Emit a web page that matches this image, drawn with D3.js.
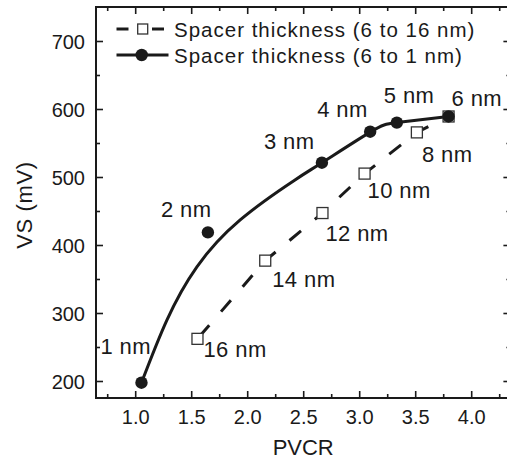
<!DOCTYPE html>
<html>
<head>
<meta charset="utf-8">
<script src="https://cdn.jsdelivr.net/npm/d3@7"></script>
<style>
  html, body { margin: 0; padding: 0; background: #fff; }
  svg { display: block; }
  text { font-family: "Liberation Sans", Arial, sans-serif; fill: #1a1a1a; }
</style>
</head>
<body>
<svg id="chart" width="507" height="463"></svg>
<script>
// Thin spacers (6 → 1 nm): measured points
const thinLabels = ["1 nm", "2 nm", "3 nm", "4 nm", "5 nm", "6 nm"];
const thinPVCR   = [1.056, 1.649, 2.667, 3.098, 3.336, 3.798];
const thinVS     = [197.5, 418.5, 521, 566.6, 580, 589];

// Thick spacers (6 → 16 nm): measured points
const thickLabels = ["6 nm", "8 nm", "10 nm", "12 nm", "14 nm", "16 nm"];
const thickPVCR   = [3.798, 3.515, 3.048, 2.672, 2.161, 1.556];
const thickVS     = [589, 565.6, 505, 447, 377, 262];

// Smooth trend through the thin-spacer series
const fitPVCR = [1.056, 1.283, 1.551, 1.9375, 2.42, 2.667, 3.098, 3.337, 3.797];
const fitVS   = [197.5, 289.7, 368, 437, 495, 521, 566, 580, 589];

// Axis ticks
const xTicks = [1.0, 1.5, 2.0, 2.5, 3.0, 3.5, 4.0];
const xMinor = [0.75, 1.25, 1.75, 2.25, 2.75, 3.25, 3.75, 4.25];
const yTicks = [200, 300, 400, 500, 600, 700];
const yMinor = [250, 350, 450, 550, 650];

// Where each point label sits relative to its marker (px)
const thinLabelOffset = [[-41, -29], [-47, -15], [-58, -14], [-53, -15], [-13, -20], [3, -10]];
const thickLabelOffset = [[3, 31], [5, 30], [3, 24], [3, 28], [7, 26], [6, 18]];

const svg = d3.select("#chart");
const plotL = 96, plotR = 510.4, plotT = 7, plotB = 398;

const x = d3.scaleLinear().domain([0.65, 4.35]).range([plotL, plotR]);
const y = d3.scaleLinear().domain([175, 750]).range([plotB, plotT]);

const ink = "#1a1a1a";

// Frame
svg.append("rect")
  .attr("x", plotL).attr("y", plotT)
  .attr("width", plotR - plotL).attr("height", plotB - plotT)
  .attr("fill", "none").attr("stroke", ink).attr("stroke-width", 2);

// Ticks on all four sides, pointing inward
function ticks(axisGen, transform) {
  const g = svg.append("g").attr("transform", transform).call(axisGen);
  g.select(".domain").remove();
  g.selectAll("line").attr("stroke", ink).attr("stroke-width", 1.6);
  return g;
}
const major = 7, minor = 4;
const fmtX = d3.format(".1f");

const gxb = ticks(d3.axisBottom(x).tickValues(xTicks).tickSize(-major).tickFormat(fmtX), `translate(0,${plotB})`);
gxb.selectAll("text").attr("y", 12).attr("dy", "0.71em").style("font-size", "20px").attr("fill", ink);
ticks(d3.axisBottom(x).tickValues(xMinor).tickSize(-minor).tickFormat(""), `translate(0,${plotB})`);
ticks(d3.axisTop(x).tickValues(xTicks).tickSize(-major).tickFormat(""), `translate(0,${plotT})`);
ticks(d3.axisTop(x).tickValues(xMinor).tickSize(-minor).tickFormat(""), `translate(0,${plotT})`);

const gyl = ticks(d3.axisLeft(y).tickValues(yTicks).tickSize(-major).tickFormat(d3.format("d")), `translate(${plotL},0)`);
gyl.selectAll("text").attr("x", -11).attr("dy", "0.35em").style("font-size", "20px").attr("fill", ink);
ticks(d3.axisLeft(y).tickValues(yMinor).tickSize(-minor).tickFormat(""), `translate(${plotL},0)`);
ticks(d3.axisRight(y).tickValues(yTicks).tickSize(-major).tickFormat(""), `translate(${plotR},0)`);
ticks(d3.axisRight(y).tickValues(yMinor).tickSize(-minor).tickFormat(""), `translate(${plotR},0)`);

// Axis titles
svg.append("text")
  .attr("x", (plotL + plotR) / 2).attr("y", 455)
  .attr("text-anchor", "middle").style("font-size", "22px").text("PVCR");
svg.append("text")
  .attr("transform", `translate(32,205) rotate(-90)`)
  .attr("text-anchor", "middle").style("font-size", "22px").style("letter-spacing", "0.6px").text("VS (mV)");

const thin = thinPVCR.map((p, i) => ({ p, v: thinVS[i], label: thinLabels[i], off: thinLabelOffset[i] }));
const thick = thickPVCR.map((p, i) => ({ p, v: thickVS[i], label: thickLabels[i], off: thickLabelOffset[i] }));
const fit = fitPVCR.map((p, i) => ({ p, v: fitVS[i] }));

// Dashed polyline through the thick-spacer points (starting from 16 nm)
const lineStraight = d3.line().x(d => x(d.p)).y(d => y(d.v));
svg.append("path")
  .datum(thick.slice().reverse())
  .attr("d", lineStraight)
  .attr("fill", "none").attr("stroke", ink).attr("stroke-width", 3)
  .attr("stroke-dasharray", "15,18").attr("stroke-dashoffset", 30);

// Smooth solid trend for thin spacers
const lineSmooth = d3.line().x(d => x(d.p)).y(d => y(d.v)).curve(d3.curveNatural);
svg.append("path")
  .datum(fit)
  .attr("d", lineSmooth)
  .attr("fill", "none").attr("stroke", ink).attr("stroke-width", 3);

// Open squares
const sq = 11;
svg.append("g").selectAll("rect").data(thick).join("rect")
  .attr("x", d => x(d.p) - sq / 2).attr("y", d => y(d.v) - sq / 2)
  .attr("width", sq).attr("height", sq)
  .attr("fill", "#fff").attr("stroke", "#333").attr("stroke-width", 1.3);

// Filled circles
svg.append("g").selectAll("circle").data(thin).join("circle")
  .attr("cx", d => x(d.p)).attr("cy", d => y(d.v)).attr("r", 6.2)
  .attr("fill", ink);

// Point labels
svg.append("g").selectAll("text").data(thin).join("text")
  .attr("x", d => x(d.p) + d.off[0]).attr("y", d => y(d.v) + d.off[1])
  .style("font-size", "22px").style("letter-spacing", "0.4px")
  .text(d => d.label);
svg.append("g").selectAll("text").data(thick.slice(1)).join("text")
  .attr("x", d => x(d.p) + d.off[0]).attr("y", d => y(d.v) + d.off[1])
  .style("font-size", "22px").style("letter-spacing", "0.4px")
  .text(d => d.label);

// Legend
const lg = svg.append("g");
const legendRows = [
  { text: "Spacer thickness (6 to 16 nm)", y: 29, dashed: true },
  { text: "Spacer thickness (6 to 1 nm)", y: 55, dashed: false }
];
legendRows.forEach(r => {
  if (r.dashed) {
    lg.append("line").attr("x1", 116.5).attr("x2", 128.5).attr("y1", r.y).attr("y2", r.y)
      .attr("stroke", ink).attr("stroke-width", 3);
    lg.append("line").attr("x1", 152).attr("x2", 164).attr("y1", r.y).attr("y2", r.y)
      .attr("stroke", ink).attr("stroke-width", 3);
    lg.append("rect").attr("x", 142.7 - 5).attr("y", r.y - 5).attr("width", 10).attr("height", 10)
      .attr("fill", "#fff").attr("stroke", "#333").attr("stroke-width", 1.3);
  } else {
    lg.append("line").attr("x1", 116.5).attr("x2", 168.5).attr("y1", r.y).attr("y2", r.y)
      .attr("stroke", ink).attr("stroke-width", 3);
    lg.append("circle").attr("cx", 141.7).attr("cy", r.y).attr("r", 6.2).attr("fill", ink);
  }
  lg.append("text").attr("x", 174).attr("y", r.y + 8)
    .style("font-size", "20.5px").style("letter-spacing", "1px").text(r.text);
});
</script>
</body>
</html>
